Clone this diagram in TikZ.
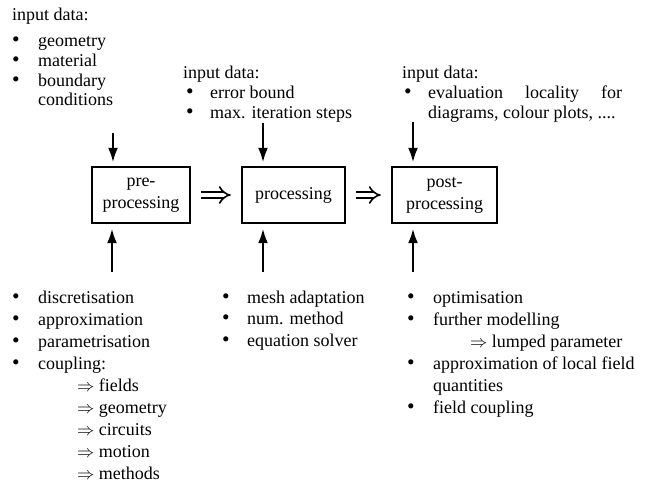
\documentclass[tikz,border=0pt]{standalone}
\usepackage{fontspec}
\usepackage{graphicx}
\setmainfont{Liberation Serif}
\usetikzlibrary{arrows.meta}
\newcommand{\bul}{\scalebox{1.2}{\textbullet}}
\begin{document}
\begin{tikzpicture}[x=1pt,y=-1pt,
  txt/.style={inner sep=0pt, anchor=base west, font=\fontsize{18}{20}\selectfont},
  lst/.style={inner sep=0pt, anchor=base west, font=\fontsize{18}{#1}\selectfont},
  box/.style={draw, line width=2.4pt, minimum height=56pt, inner sep=2pt, align=center, font=\fontsize{18}{22}\selectfont},
  inarrow/.style={line width=2.8pt, -{Latex[length=15pt,width=10pt]}},
  flow/.style={double, double distance=4.5pt, line width=1.6pt, -{Implies}, shorten <=10pt, shorten >=10pt}]
\useasboundingbox (0,0) rectangle (666,494);

% boxes
\node[box, minimum width=98pt]  (pre)  at (141,195)   {pre-\\processing};
\node[box, minimum width=103pt] (proc) at (293.5,195) {processing};
\node[box, minimum width=105pt] (post) at (444.5,195) {post-\\processing};

% flow arrows
\draw[flow] (pre) -- (proc);
\draw[flow] (proc) -- (post);

% input arrows from above
\coordinate (ta) at (113,133);
\coordinate (tb) at (263,123);
\coordinate (tc) at (413,122);
\draw[inarrow, shorten >=3pt] (ta) -- (ta |- pre.north);
\draw[inarrow, shorten >=3pt] (tb) -- (tb |- proc.north);
\draw[inarrow, shorten >=3pt] (tc) -- (tc |- post.north);

% input arrows from below
\coordinate (ba) at (112,272);
\coordinate (bb) at (263,272);
\coordinate (bc) at (413,272);
\draw[inarrow, shorten >=4pt] (ba) -- (ba |- pre.south);
\draw[inarrow, shorten >=4pt] (bb) -- (bb |- proc.south);
\draw[inarrow, shorten >=4pt] (bc) -- (bc |- post.south);

% top texts
\node[txt] (h1) at (12,21) {input data:};
\node[lst=19.6] (l1) at (12,47) {\begin{tabular}[t]{@{}p{26pt}@{}l@{}}
\bul & geometry\\
\bul & material\\
\bul & boundary\\
 & conditions
\end{tabular}};

\node[txt] (h2) at (183,79) {input data:};
\node[lst=19.5] (l2) at (186,99) {\begin{tabular}[t]{@{}p{24pt}@{}l@{}}
\bul & error bound\\
\bul & max. iteration steps
\end{tabular}};

\node[txt] (h3) at (402,79) {input data:};
\node[lst=19.5] (l3) at (404,99) {\begin{tabular}[t]{@{}p{24pt}@{}l@{}}
\bul & \makebox[194pt][s]{evaluation locality for}\\
 & diagrams, colour plots, ....
\end{tabular}};

% bottom texts
\node[lst=22] (l4) at (12,303) {\begin{tabular}[t]{@{}p{26pt}@{}l@{}}
\bul & discretisation\\
\bul & approximation\\
\bul & parametrisation\\
\bul & coupling:\\
 & \hspace*{39pt}$\Rightarrow$ fields\\
 & \hspace*{39pt}$\Rightarrow$ geometry\\
 & \hspace*{39pt}$\Rightarrow$ circuits\\
 & \hspace*{39pt}$\Rightarrow$ motion\\
 & \hspace*{39pt}$\Rightarrow$ methods
\end{tabular}};

\node[lst=21.5] (l5) at (222,303) {\begin{tabular}[t]{@{}p{25pt}@{}l@{}}
\bul & mesh adaptation\\
\bul & num. method\\
\bul & equation solver
\end{tabular}};

\node[lst=22] (l6) at (407,303) {\begin{tabular}[t]{@{}p{26pt}@{}l@{}}
\bul & optimisation\\
\bul & further modelling\\
 & \hspace*{37pt}$\Rightarrow$ lumped parameter\\
\bul & approximation of local field\\
 & quantities\\
\bul & field coupling
\end{tabular}};
\end{tikzpicture}
\end{document}
